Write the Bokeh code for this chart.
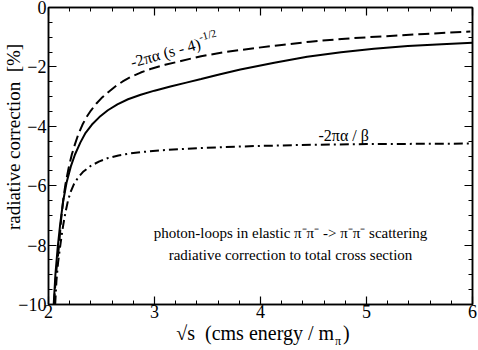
from bokeh.plotting import figure
from bokeh.models import (Label, LinearAxis, SingleIntervalTicker, FixedTicker, Range1d,
                          CustomJSTickFormatter)
from bokeh.embed import file_html
from bokeh.resources import INLINE

# --- data ---
# total radiative correction (solid)
x_total = [2.049, 2.065, 2.087, 2.11, 2.137, 2.17, 2.21, 2.25, 2.30, 2.35, 2.41, 2.48,
           2.56, 2.65, 2.75, 2.87, 3.00, 3.15, 3.30, 3.44, 3.62, 3.81, 4.13, 4.44,
           4.76, 5.07, 5.39, 5.71, 6.00]
y_total = [-10.0, -9.0, -8.07, -7.3, -6.55, -5.9, -5.36, -4.95, -4.55, -4.22, -3.94, -3.69,
           -3.46, -3.26, -3.09, -2.94, -2.80, -2.66, -2.53, -2.41, -2.25, -2.09, -1.86, -1.66,
           -1.51, -1.39, -1.30, -1.24, -1.19]

# -2 pi alpha (s-4)^(-1/2)  (dashed)
x_sq = [2.052, 2.07, 2.085, 2.10, 2.12, 2.14, 2.16, 2.19, 2.22, 2.25, 2.28, 2.32, 2.36,
        2.40, 2.45, 2.50, 2.56, 2.63, 2.70, 2.78, 2.87, 2.97, 3.10, 3.25, 3.44, 3.65,
        3.94, 4.20, 4.47, 4.80, 5.16, 5.55, 5.98]
y_sq = [-10.0, -9.0, -8.5, -8.0, -7.1, -6.45, -5.95, -5.40, -4.95, -4.60, -4.28, -3.95, -3.68,
        -3.47, -3.24, -3.05, -2.86, -2.66, -2.49, -2.33, -2.19, -2.06, -1.93, -1.80, -1.64, -1.51,
        -1.37, -1.26, -1.15, -1.05, -0.97, -0.89, -0.81]

# -2 pi alpha / beta  (dash-dot)
x_beta = [2.063, 2.075, 2.09, 2.108, 2.125, 2.14, 2.16, 2.184, 2.21, 2.24, 2.28, 2.33,
          2.40, 2.48, 2.56, 2.66, 2.76, 2.87, 3.05, 3.25, 3.45, 3.65, 4.00, 4.50, 5.00,
          5.50, 6.00]
y_beta = [-10.0, -9.2, -8.6, -8.1, -7.65, -7.3, -6.9, -6.5, -6.2, -5.95, -5.72, -5.52,
          -5.33, -5.18, -5.07, -4.98, -4.92, -4.87, -4.81, -4.77, -4.73, -4.70, -4.66, -4.62,
          -4.60, -4.59, -4.58]

x_ticks_interval = 1
y_ticks_interval = 2

FONT = "Liberation Serif"
NB = "\u00a0"

p = figure(width=478, height=350, x_range=Range1d(2, 6), y_range=Range1d(-10, 0),
           output_backend="svg", toolbar_location=None,
           min_border_left=48, min_border_right=6, min_border_top=7, min_border_bottom=46)
p.grid.visible = False
p.outline_line_color = "black"
p.outline_line_width = 1.5
p.background_fill_color = "white"
p.border_fill_color = "white"

p.line(x_sq, y_sq, line_color="black", line_width=2, line_dash="11 5")
p.line(x_total, y_total, line_color="black", line_width=2)
p.line(x_beta, y_beta, line_color="black", line_width=2, line_dash="9 4 2 4")

def style_axis(ax, interval, minor, show_labels):
    ax.ticker = SingleIntervalTicker(interval=interval, num_minor_ticks=minor)
    ax.axis_line_color = "black"
    ax.axis_line_width = 1.5
    ax.major_tick_in = 8
    ax.major_tick_out = 0
    ax.minor_tick_in = 4
    ax.minor_tick_out = 0
    ax.major_tick_line_color = "black"
    ax.minor_tick_line_color = "black"
    ax.major_tick_line_width = 1.2
    ax.minor_tick_line_width = 1
    ax.axis_label_text_font = FONT
    ax.axis_label_text_font_style = "normal"
    ax.axis_label_text_color = "black"
    if show_labels:
        ax.major_label_text_font = FONT
        ax.major_label_text_font_size = "18px"
        ax.major_label_text_color = "black"
    else:
        ax.formatter = CustomJSTickFormatter(code="return ''")
        ax.major_label_text_font_size = "1px"
        ax.major_label_standoff = 0

xax = p.xaxis[0]
yax = p.yaxis[0]
style_axis(xax, x_ticks_interval, 5, True)
style_axis(yax, y_ticks_interval, 4, True)
xax.major_label_standoff = 0
yax.major_label_standoff = 2

yax.axis_label = NB * 8 + "radiative correction" + NB * 2 + "[%]"
yax.axis_label_text_font_size = "19px"
yax.axis_label_standoff = -9

xax.axis_label = NB + "√s" + NB * 2 + "(cms energy / m" + NB + "\u2009" + ")"
xax.axis_label_text_font_size = "20px"
xax.axis_label_standoff = 1

top = LinearAxis()
right = LinearAxis()
style_axis(top, x_ticks_interval, 5, False)
style_axis(right, y_ticks_interval, 4, False)
p.add_layout(top, "above")
p.add_layout(right, "right")

# subscript pi of the x axis title, drawn as the single label of an extra bottom axis
sub_axis = LinearAxis(ticker=FixedTicker(ticks=[4.731], minor_ticks=[]),
                      formatter=CustomJSTickFormatter(code="return 'π'"))
sub_axis.axis_line_color = None
sub_axis.major_tick_line_color = None
sub_axis.minor_tick_line_color = None
sub_axis.major_tick_in = 0
sub_axis.major_tick_out = 0
sub_axis.minor_tick_in = 0
sub_axis.minor_tick_out = 0
sub_axis.major_label_text_font = FONT
sub_axis.major_label_text_font_size = "12px"
sub_axis.major_label_text_color = "black"
sub_axis.major_label_standoff = -13
p.add_layout(sub_axis, "below")

# curve annotations
p.add_layout(Label(x=2.777, y=-1.85, text="-2πα (s - 4)", angle=15.5, angle_units="deg",
                   text_font=FONT, text_font_size="16px", text_align="left",
                   text_baseline="alphabetic", text_color="black"))
p.add_layout(Label(x=3.42, y=-1.0, text="-1/2", angle=15.5, angle_units="deg",
                   text_font=FONT, text_font_size="11px", text_align="left",
                   text_baseline="alphabetic", text_color="black"))
p.add_layout(Label(x=4.547, y=-4.31, text="-2πα / β", text_font=FONT, text_font_size="16px",
                   text_align="left", text_baseline="alphabetic", text_color="black"))

# description
p.add_layout(Label(x=4.283, y=-7.58, text="photon-loops in elastic π\u207bπ\u207b -> π\u207bπ\u207b scattering",
                   text_font=FONT, text_font_size="15px", text_align="center",
                   text_baseline="alphabetic", text_color="black"))
p.add_layout(Label(x=4.283, y=-8.32, text="radiative correction to total cross section",
                   text_font=FONT, text_font_size="15px", text_align="center",
                   text_baseline="alphabetic", text_color="black"))

open("out.html", "w").write(file_html(p, INLINE))
